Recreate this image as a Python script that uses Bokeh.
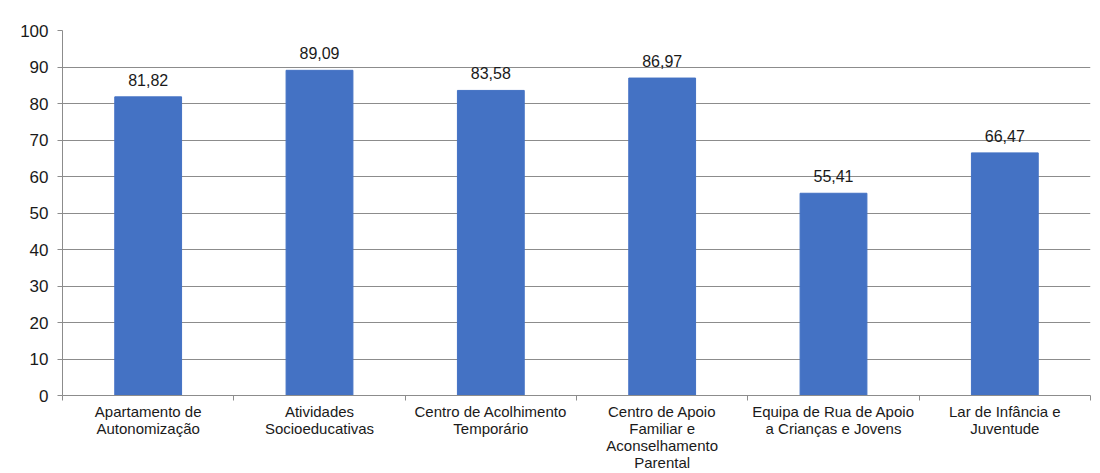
from bokeh.plotting import figure
from bokeh.models import Range1d, FixedTicker, ColumnDataSource
from bokeh.core.properties import value
from bokeh.embed import file_html
from bokeh.resources import INLINE

categories = [
    "Apartamento de\nAutonomização",
    "Atividades\nSocioeducativas",
    "Centro de Acolhimento\nTemporário",
    "Centro de Apoio\nFamiliar e\nAconselhamento\nParental",
    "Equipa de Rua de Apoio\na Crianças e Jovens",
    "Lar de Infância e\nJuventude",
]
values = [81.82, 89.09, 83.58, 86.97, 55.41, 66.47]
y_ticks = list(range(0, 101, 10))

FONT = "Liberation Sans"
GRID = "#8c8c8c"
BAR = "#4472C4"
TEXT = "#1a1a1a"

n = len(categories)
centers = [i + 0.5 for i in range(n)]
labels = [f"{v:.2f}".replace(".", ",") for v in values]
src = ColumnDataSource(dict(x=centers, top=values, label=labels))

p = figure(
    width=1100, height=473,
    x_range=Range1d(0, n), y_range=Range1d(0, 100),
    output_backend="svg", toolbar_location=None,
    min_border_left=62, min_border_right=10,
    min_border_top=30, min_border_bottom=78,
)
p.outline_line_color = None
p.background_fill_color = "white"
p.border_fill_color = "white"

p.vbar(x="x", top="top", width=0.39, bottom=0, source=src,
       fill_color=BAR, line_color=BAR)

# value labels above each bar
p.text(x="x", y="top", text="label", source=src,
       text_align="center", text_baseline="bottom", y_offset=-11,
       text_font_size="16px", text_color=TEXT, text_font=value(FONT))

# y axis
p.yaxis.ticker = FixedTicker(ticks=y_ticks)
p.yaxis.axis_line_color = GRID
p.yaxis.major_tick_line_color = GRID
p.yaxis.major_tick_out = 5
p.yaxis.major_tick_in = 0
p.yaxis.minor_tick_line_color = None
p.yaxis.major_label_standoff = 9
p.yaxis.major_label_text_font = FONT
p.yaxis.major_label_text_font_size = "17px"
p.yaxis.major_label_text_color = TEXT

p.ygrid.ticker = FixedTicker(ticks=y_ticks)
p.ygrid.grid_line_color = GRID
p.ygrid.grid_line_width = 1
p.xgrid.grid_line_color = None

# x axis: names under bar centres, ticks at category boundaries
p.xaxis.ticker = FixedTicker(ticks=centers, minor_ticks=list(range(n + 1)))
p.xaxis.major_label_overrides = {c: name for c, name in zip(centers, categories)}
p.xaxis.axis_line_color = GRID
p.xaxis.major_tick_line_color = None
p.xaxis.major_tick_out = 0
p.xaxis.major_tick_in = 0
p.xaxis.minor_tick_line_color = GRID
p.xaxis.minor_tick_out = 5
p.xaxis.minor_tick_in = 0
p.xaxis.major_label_standoff = 2
p.xaxis.major_label_text_font = FONT
p.xaxis.major_label_text_font_size = "15px"
p.xaxis.major_label_text_color = TEXT
p.xaxis.major_label_text_line_height = 1.0

open("out.html", "w").write(file_html(p, INLINE))
